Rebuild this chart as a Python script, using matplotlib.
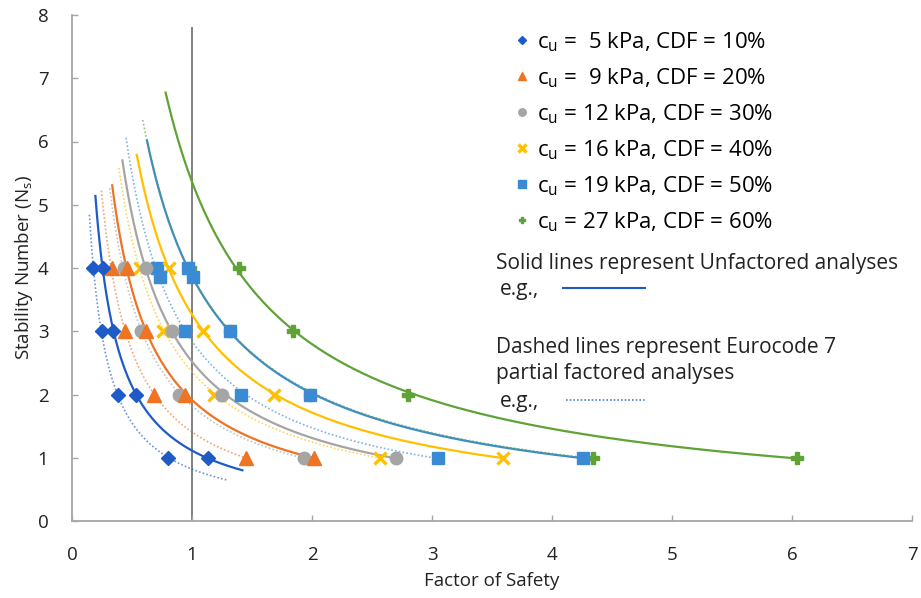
import numpy as np
import matplotlib.pyplot as plt
from matplotlib.lines import Line2D

plt.rcParams['font.family'] = ['Open Sans', 'DejaVu Sans']

# stability number values used for every data set
ns = [4, 3, 2, 1]

# factor of safety (unfactored / Eurocode 7 factored)
cu5_unf = [0.26, 0.34, 0.53, 1.13]
cu5_fac = [0.175, 0.25, 0.38, 0.80]
cu9_unf = [0.456, 0.62, 0.94, 2.02]
cu9_fac = [0.33, 0.44, 0.68, 1.45]
cu12_unf = [0.62, 0.83, 1.25, 2.70]
cu12_fac = [0.43, 0.575, 0.89, 1.93]
cu16_unf = [0.81, 1.09, 1.68, 3.59]
cu16_fac = [0.57, 0.76, 1.18, 2.57]
cu19_unf = [0.97, 1.32, 1.98, 4.26]
cu19_fac = [0.71, 0.94, 1.41, 3.05]
cu27_unf = [1.39, 1.84, 2.80, 6.04]
cu27_fac = [0.98, 1.32, 1.98, 4.34]

# two extra square points sitting just below N = 4
cu19_extra_fs = [0.73, 1.01]
cu19_extra_ns = [3.86, 3.86]

labels = [r'c$_\mathregular{u}$ =  5 kPa, CDF = 10%',
          r'c$_\mathregular{u}$ =  9 kPa, CDF = 20%',
          r'c$_\mathregular{u}$ = 12 kPa, CDF = 30%',
          r'c$_\mathregular{u}$ = 16 kPa, CDF = 40%',
          r'c$_\mathregular{u}$ = 19 kPa, CDF = 50%',
          r'c$_\mathregular{u}$ = 27 kPa, CDF = 60%']

# range of FS over which each trend curve is drawn
solid_from = [0.195, 0.335, 0.42, 0.54, 0.625, 0.78]
solid_to = [1.42, 2.02, 2.70, 3.59, 4.26, 6.04]
dotted_from = [0.145, 0.245, 0.315, 0.39, 0.45, 0.59]
dotted_to = [1.30, 1.45, 1.93, 2.57, 3.05, 4.34]

ref_fs = 1.0
ref_top = 7.8

colors = ['#1F5BC6', '#EE7424', '#A5A5A5', '#FFC000', '#3A8BD4', '#5FA336']
markers = ['D', '^', 'o', 'x', 's', 'P']
msizes = [7, 9.5, 9, 9, 8.5, 8]

unf = [cu5_unf, cu9_unf, cu12_unf, cu16_unf, cu19_unf, cu27_unf]
fac = [cu5_fac, cu9_fac, cu12_fac, cu16_fac, cu19_fac, cu27_fac]


def power_fit(fs, n):
    b, lna = np.polyfit(np.log(fs), np.log(n), 1)
    return lambda x: np.exp(lna) * np.power(x, b)


fig = plt.figure(figsize=(9.21, 5.98), dpi=100)
ax = fig.add_axes([72 / 921, 1 - 521 / 598, (912 - 72) / 921, (521 - 15) / 598])

for i in range(6):
    c = colors[i]
    f1 = power_fit(unf[i], ns)
    x1 = np.linspace(solid_from[i], solid_to[i], 200)
    ax.plot(x1, f1(x1), color=c, lw=1.6, zorder=2)
    f2 = power_fit(fac[i], ns)
    x2 = np.linspace(dotted_from[i], dotted_to[i], 200)
    ax.plot(x2, f2(x2), color=c, lw=1.2, ls=(0, (1, 1.3)), alpha=0.65, zorder=2)

# markers (green factored drawn first, under the squares)
handles = {}
for i in [5, 0, 1, 2, 3, 4]:
    c = colors[i]
    kw = dict(ls='none', marker=markers[i], ms=msizes[i], color=c, mec=c)
    if markers[i] == 'x':
        kw['mew'] = 2.4
    ax.plot(fac[i], ns, zorder=3, **kw)
    h, = ax.plot(unf[i], ns, zorder=4, label=labels[i], **kw)
    handles[i] = h
    if i == 4:
        ax.plot(cu19_extra_fs, cu19_extra_ns, zorder=4, **kw)

ax.plot([ref_fs, ref_fs], [0, ref_top], color='#808080', lw=1.4, zorder=1)

ax.set_xlim(0, 7)
ax.set_ylim(0, 8)
ax.set_xticks(range(8))
ax.set_yticks(range(9))
for s in ['top', 'right']:
    ax.spines[s].set_visible(False)
for s in ['left', 'bottom']:
    ax.spines[s].set_color('#A6A6A6')
    ax.spines[s].set_linewidth(1.3)
ax.tick_params(direction='in', length=4, width=1, color='#A6A6A6',
               labelsize=13.5, labelcolor='#222222')
ax.tick_params(axis='x', pad=18)
ax.tick_params(axis='y', pad=17)
ax.set_xlabel('Factor of Safety', fontsize=13.5, labelpad=6, color='#222222')
ax.set_ylabel(r'Stability Number (N$_\mathregular{s}$)', fontsize=13.5,
              labelpad=2, color='#222222')

ax.legend(handles=[handles[i] for i in range(6)], loc='upper left',
          bbox_to_anchor=(491 / 921, 1 - 10 / 598),
          bbox_transform=fig.transFigure, frameon=False, fontsize=16,
          handletextpad=0.15, handlelength=1.0, labelspacing=0.56, markerscale=0.6)

tc = '#222222'
fs_txt = 15
fig.text(496 / 921, 1 - 263 / 598, 'Solid lines represent Unfactored analyses',
         fontsize=fs_txt, va='center', color=tc)
fig.text(500 / 921, 1 - 290 / 598, 'e.g.,', fontsize=fs_txt, va='center', color=tc)
fig.add_artist(Line2D([563 / 921, 645 / 921], [1 - 288 / 598] * 2,
                      color=colors[0], lw=1.5))
fig.text(496 / 921, 1 - 347 / 598, 'Dashed lines represent Eurocode 7',
         fontsize=fs_txt, va='center', color=tc)
fig.text(496 / 921, 1 - 374 / 598, 'partial factored analyses',
         fontsize=fs_txt, va='center', color=tc)
fig.text(500 / 921, 1 - 402 / 598, 'e.g.,', fontsize=fs_txt, va='center', color=tc)
fig.add_artist(Line2D([566 / 921, 646 / 921], [1 - 400 / 598] * 2,
                      color=colors[0], lw=1.2, ls=(0, (1, 1.2)), alpha=0.8))

fig.savefig('out.png', dpi=100)
